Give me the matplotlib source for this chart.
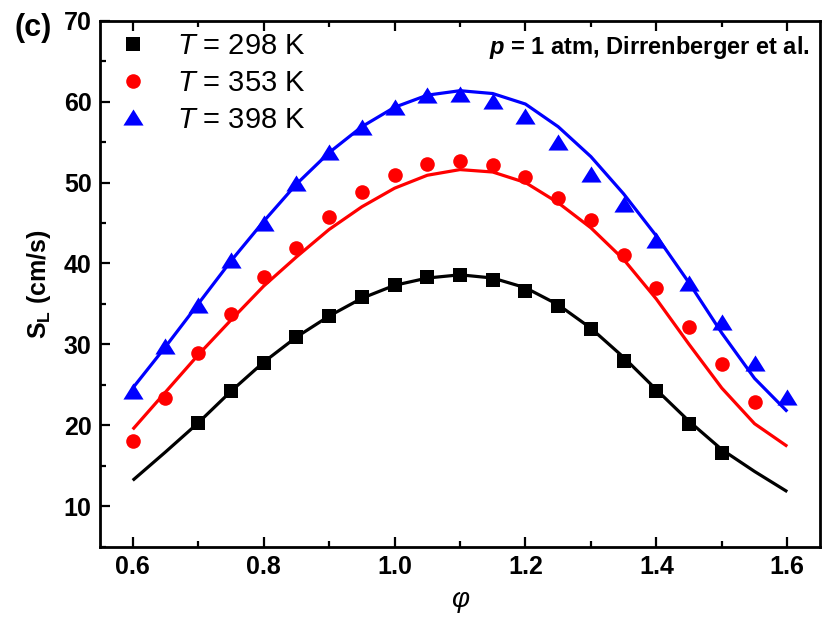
import matplotlib
matplotlib.use("Agg")
import matplotlib.pyplot as plt
from matplotlib.ticker import MultipleLocator, FormatStrFormatter

plt.rcParams['font.family'] = ['Liberation Sans', 'DejaVu Sans']
plt.rcParams['mathtext.fontset'] = 'custom'
plt.rcParams['mathtext.rm'] = 'Liberation Sans'
plt.rcParams['mathtext.it'] = 'Liberation Sans:italic'
plt.rcParams['mathtext.bf'] = 'Liberation Sans:bold'
plt.rcParams['mathtext.bfit'] = 'Liberation Sans:italic:bold'

# ---------------- data ----------------
phi_298 = [0.70, 0.75, 0.80, 0.85, 0.90, 0.95, 1.00, 1.05, 1.10, 1.15, 1.20,
           1.25, 1.30, 1.35, 1.40, 1.45, 1.50]
sl_298 = [20.3, 24.2, 27.7, 30.9, 33.5, 35.9, 37.4, 38.3, 38.6, 38.0, 36.6,
          34.8, 31.9, 27.9, 24.2, 20.2, 16.6]

phi_353 = [0.60, 0.65, 0.70, 0.75, 0.80, 0.85, 0.90, 0.95, 1.00, 1.05, 1.10,
           1.15, 1.20, 1.25, 1.30, 1.35, 1.40, 1.45, 1.50, 1.55]
sl_353 = [18.1, 23.4, 28.9, 33.7, 38.3, 41.9, 45.8, 48.8, 50.9, 52.3, 52.7,
          52.2, 50.7, 48.1, 45.4, 41.0, 37.0, 32.1, 27.6, 22.9]

phi_398 = [0.60, 0.65, 0.70, 0.75, 0.80, 0.85, 0.90, 0.95, 1.00, 1.05, 1.10,
           1.15, 1.20, 1.25, 1.30, 1.35, 1.40, 1.45, 1.50, 1.55, 1.60]
sl_398 = [24.3, 29.8, 34.9, 40.4, 45.0, 50.0, 53.8, 56.9, 59.3, 60.8, 61.0,
          60.1, 58.2, 55.0, 51.0, 47.3, 42.9, 37.6, 32.8, 27.7, 23.5]

# simulation curves
phi_sim = [0.60, 0.65, 0.70, 0.75, 0.80, 0.85, 0.90, 0.95, 1.00, 1.05, 1.10,
           1.15, 1.20, 1.25, 1.30, 1.35, 1.40, 1.45, 1.50, 1.55, 1.60]
sim_298 = [13.2, 16.7, 20.3, 24.2, 27.8, 30.9, 33.5, 35.7, 37.3, 38.2, 38.6,
           38.2, 37.0, 34.9, 32.0, 28.4, 24.4, 20.5, 17.0, 14.3, 11.8]
sim_353 = [19.5, 24.1, 28.7, 33.0, 37.2, 40.8, 44.2, 47.0, 49.3, 50.9, 51.6,
           51.3, 50.0, 47.5, 44.4, 40.5, 35.6, 30.0, 24.6, 20.2, 17.4]
sim_398 = [24.6, 29.7, 35.0, 40.3, 45.2, 49.8, 53.7, 56.9, 59.3, 60.8, 61.35,
           61.0, 59.7, 56.9, 53.2, 48.6, 43.4, 37.6, 31.4, 25.8, 21.7]

labels = [r'$T$ = 298 K', r'$T$ = 353 K', r'$T$ = 398 K']
colors = ['black', 'red', 'blue']

# ---------------- figure ----------------
fig = plt.figure(figsize=(8.23, 6.17), dpi=100)
ax = fig.add_axes([100/823, 1 - 546.7/617, 720/823, 526/617])

tri = [(0, 0.8), (-1, -0.8), (1, -0.8)]

for ph, yy, c in [(phi_sim, sim_298, colors[0]), (phi_sim, sim_353, colors[1]),
                  (phi_sim, sim_398, colors[2])]:
    ax.plot(ph, yy, color=c, lw=2.3, zorder=2, solid_joinstyle='round',
            solid_capstyle='butt')

ax.plot(phi_298, sl_298, ls='none', marker='s', ms=10.5, mew=0,
        color=colors[0], label=labels[0], zorder=3)
ax.plot(phi_353, sl_353, ls='none', marker='o', ms=10.5, mew=0,
        color=colors[1], label=labels[1], zorder=3)
ax.plot(phi_398, sl_398, ls='none', marker=tri, ms=14.5, mew=0,
        color=colors[2], label=labels[2], zorder=3)

ax.set_xlim(0.55, 1.65)
ax.set_ylim(5, 70)
ax.xaxis.set_major_locator(MultipleLocator(0.2))
ax.xaxis.set_minor_locator(MultipleLocator(0.1))
ax.yaxis.set_major_locator(MultipleLocator(10))
ax.yaxis.set_minor_locator(MultipleLocator(5))
ax.xaxis.set_major_formatter(FormatStrFormatter('%.1f'))

ax.tick_params(which='both', direction='in', top=True, right=False,
               width=1.6, labelsize=18, pad=6)
ax.tick_params(which='major', length=7)
ax.tick_params(which='minor', length=4)
for lab in ax.get_xticklabels() + ax.get_yticklabels():
    lab.set_fontweight('bold')
for s in ax.spines.values():
    s.set_linewidth(2.0)

ax.set_xlabel('φ', fontsize=20, style='italic', labelpad=6)
ax.set_ylabel(r'S$_\mathregular{L}$ (cm/s)', fontsize=18, fontweight='bold',
              labelpad=8)

leg = ax.legend(loc='upper left', bbox_to_anchor=(0.022, 0.984), frameon=False,
                fontsize=21, handlelength=1.0, handletextpad=1.0,
                labelspacing=0.3, borderpad=0.1, borderaxespad=0)

ax.text(0.985, 0.95, r'$\mathbfit{p}$ = 1 atm, Dirrenberger et al.',
        transform=ax.transAxes, ha='right', va='center', fontsize=17,
        fontweight='bold')

fig.text(33/823, 1 - 28/617, '(c)', fontsize=22, fontweight='bold',
         ha='center', va='center')

fig.savefig('out.png', dpi=100)
